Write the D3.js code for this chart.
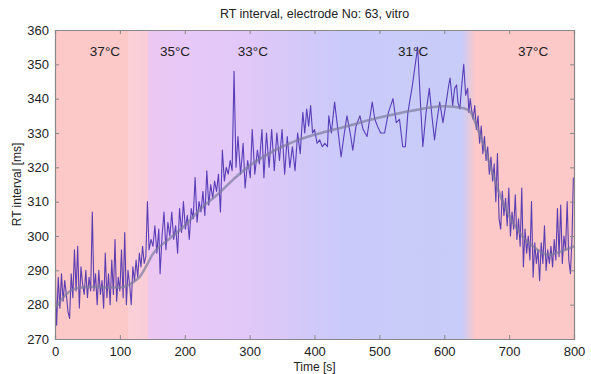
<!DOCTYPE html>
<html><head><meta charset="utf-8">
<script src="https://cdn.jsdelivr.net/npm/d3@7"></script>
<style>
body{margin:0;background:#fff;}
text{font-family:"Liberation Sans",Arial,sans-serif;fill:#222;}
</style></head>
<body><svg id="chart" width="591" height="374"></svg>
<script>
// ---- data ----
const chartTitle = "RT interval, electrode No: 63, vitro";
const xTicks = [0,100,200,300,400,500,600,700,800];
const yTicks = [270,280,290,300,310,320,330,340,350,360];
const tempLabels = ["37°C","35°C","33°C","31°C","37°C"];
const tempLabelTime = [77,185,305,552,737];

// background temperature colour stops (time [s], colour)
const bgStopTime  = [0, 113, 113, 143, 143, 218, 300, 440, 628, 648, 800];
const bgStopColor = ["#fcc8c8","#fcc8c8","#fbd0d6","#f8cdd8","#ecc8f2","#e6c8f8","#e0c8f8","#cacafa","#c8ccf8","#fcc8c8","#fcc8c8"];

// measured RT interval [time s, RT ms]
const rtWarmStart = [[0,290],[2.5,274],[5,288],[7.5,279],[10,289],[12.5,281],[15,287],[17.5,283],[20,278],[22.5,276],[25,289],[27.5,282],[30,296],[32.5,284],[35,297],[37.5,279],[40,291],[42.5,286],[45,283],[47.5,290],[50,282],[52.5,288],[55,284],[57.5,307],[60,284],[62.5,289],[65,280],[67.5,290],[70,283],[72.5,287],[75,279],[77.5,295],[80,282],[82.5,289],[85,280],[87.5,293],[90,283],[92.5,299],[95,281],[97.5,288],[100,284],[102.5,296],[105,282],[107.5,301],[110,280],[112.5,290],[115,286],[117.5,280],[120,291],[122.5,287],[125,293],[127.5,288],[130,295],[132.5,291],[135,297],[137.5,292],[140,294],[142.5,310],[145,296]];
const rtCooling = [[148,299],[151,297],[154,303],[157,295],[160,302],[162,289],[165,300],[168,307],[171,296],[174,304],[177,300],[180,307],[183,299],[186,303],[189,295],[192,308],[195,301],[198,310],[201,302],[204,306],[207,299],[210,308],[213,305],[216,317],[219,304],[222,310],[225,307],[228,313],[231,306],[234,319],[237,309],[240,315],[243,311],[246,316],[249,313],[252,318],[255,307],[258,325],[261,316],[264,320],[267,318],[270,322],[273,319],[276,348],[279,320]];
const rtCold = [[282,329],[286,318],[290,327],[293,314],[297,322],[301,317],[304,331],[308,318],[312,325],[315,321],[319,331],[322,317],[326,330],[330,320],[334,331],[338,319],[342,330],[346,322],[350,331],[354,318],[358,329],[362,320],[366,326],[370,319],[374,330],[378,324],[382,336],[385,330],[388,337],[391,332],[394,338],[397,330],[400,331],[404,327],[408,328],[412,326],[416,327],[420,326],[422,335],[426,330],[431,339],[436,331],[441,323],[446,330],[450,335],[455,330],[459,325],[464,332],[470,335],[475,331],[481,329],[485,334],[489,339],[493,334],[497,332],[502,330],[508,330],[514,336],[521,340],[526,333],[531,334],[536,326],[540,326],[544,336],[551,344],[559,355],[563,340],[567,326],[572,336],[577,343],[581,335],[585,328],[589,334],[593,339],[598,333],[603,339],[607,344],[609,346],[613,338],[616,343],[619,344],[621,339],[624,337],[627,344],[630,350],[633,341],[636,343],[638,336],[640,340]];
const rtRewarm = [[642,337],[644.5,334],[647,338],[649.5,331],[652,335],[654.5,327],[657,332],[659.5,324],[662,329],[664.5,322],[667,326],[669.5,318],[672,323],[674.5,316],[677,321],[679.5,310],[682,324],[684.5,305],[687,302],[689.5,313],[692,306],[694.5,311],[697,303],[699.5,314],[702,300],[704.5,307],[707,302],[709.5,312],[712,299],[714.5,305],[717,297],[719.5,314],[722,291],[724.5,302],[727,295],[729.5,300],[732,293],[734.5,310],[737,288],[739.5,298],[742,292],[744.5,296],[747,287],[749.5,298],[752,292],[754.5,303],[757,290],[759.5,296],[762,292],[764.5,297],[767,291],[769.5,299],[772,293],[774.5,308],[777,294],[779.5,309],[782,292],[784.5,300],[787,296],[789.5,310],[792,293],[794.5,289],[797,300],[799,317]];

// fitted trend [time s, RT ms]
const trendTime = [0,10,20,40,60,80,100,120,130,140,150,175,200,225,250,275,300,325,350,375,400,450,500,550,600,630,640,650,660,675,690,700,720,740,760,780,800];
const trendRT   = [279,281.5,283.5,285,285.2,285,285,286.5,288,291,294.5,299,303,308,312,316.5,320.5,323.5,326,328,329.5,332,334.5,336.5,337.8,337.2,336.2,332,327,318,310,306,300,296.5,294.5,295.5,297];

// ---- chart ----
const W = 591, H = 374;
const m = {left:55, right:17, top:30, bottom:35};
const svg = d3.select("#chart");
const x = d3.scaleLinear().domain([0,800]).range([m.left, W-m.right]);
const y = d3.scaleLinear().domain([270,360]).range([H-m.bottom, m.top]);

const defs = svg.append("defs");
const grad = defs.append("linearGradient").attr("id","bg")
  .attr("gradientUnits","userSpaceOnUse")
  .attr("x1", x(0)).attr("x2", x(800)).attr("y1",0).attr("y2",0);
bgStopTime.forEach((t,i)=>{
  grad.append("stop").attr("offset", (x(t)-x(0))/(x(800)-x(0))).attr("stop-color", bgStopColor[i]);
});
defs.append("clipPath").attr("id","clip").append("rect")
  .attr("x", x(0)).attr("y", y(360)).attr("width", x(800)-x(0)).attr("height", y(270)-y(360));

svg.append("rect").attr("x", x(0)).attr("y", y(360))
  .attr("width", x(800)-x(0)).attr("height", y(270)-y(360)).attr("fill","url(#bg)");

const g = svg.append("g").attr("clip-path","url(#clip)");
const line = d3.line().x(d=>x(d[0])).y(d=>y(d[1]));
const measured = rtWarmStart.concat(rtCooling, rtCold, rtRewarm);
g.append("path").datum(measured).attr("d", line)
  .attr("fill","none").attr("stroke","#4a2fb0").attr("stroke-width",1.1).attr("stroke-linejoin","round").attr("opacity",0.9);
const trend = trendTime.map((t,i)=>[t, trendRT[i]]);
g.append("path").datum(trend).attr("d", d3.line().curve(d3.curveMonotoneX).x(d=>x(d[0])).y(d=>y(d[1])))
  .attr("fill","none").attr("stroke","#7d7a9e").attr("stroke-width",2.6).attr("opacity",0.7);

// axes (MATLAB-style box with inward ticks)
const axCol = "#888";
const xb = svg.append("g").attr("transform",`translate(0,${y(270)})`)
  .call(d3.axisBottom(x).tickValues(xTicks).tickSize(-4).tickPadding(8).tickFormat(d3.format("d")));
const xt = svg.append("g").attr("transform",`translate(0,${y(360)})`)
  .call(d3.axisTop(x).tickValues(xTicks).tickSize(-4).tickFormat(""));
const yl = svg.append("g").attr("transform",`translate(${x(0)},0)`)
  .call(d3.axisLeft(y).tickValues(yTicks).tickSize(-4).tickPadding(6).tickFormat(d3.format("d")));
const yr = svg.append("g").attr("transform",`translate(${x(800)},0)`)
  .call(d3.axisRight(y).tickValues(yTicks).tickSize(-4).tickFormat(""));
[xb,xt,yl,yr].forEach(a=>{
  a.selectAll("path").attr("stroke",axCol).attr("stroke-width",1.2);
  a.selectAll("line").attr("stroke",axCol);
  a.selectAll("text").attr("font-size",13).attr("fill","#333").style("font-family","'Liberation Sans',Arial,sans-serif");
});

// temperature labels
svg.selectAll(".temp").data(tempLabels).enter().append("text")
  .attr("x",(d,i)=>x(tempLabelTime[i])).attr("y", y(352.3))
  .attr("text-anchor","middle").attr("font-size",13.5).text(d=>d);

// title & axis labels
svg.append("text").attr("x",(x(0)+x(800))/2).attr("y",18).attr("text-anchor","middle")
  .attr("font-size",12.5).text(chartTitle);
svg.append("text").attr("x",(x(0)+x(800))/2).attr("y",371).attr("text-anchor","middle")
  .attr("font-size",12).text("Time [s]");
svg.append("text").attr("transform",`translate(21,${(y(270)+y(360))/2}) rotate(-90)`)
  .attr("text-anchor","middle").attr("font-size",12).text("RT interval [ms]");
</script></body></html>
